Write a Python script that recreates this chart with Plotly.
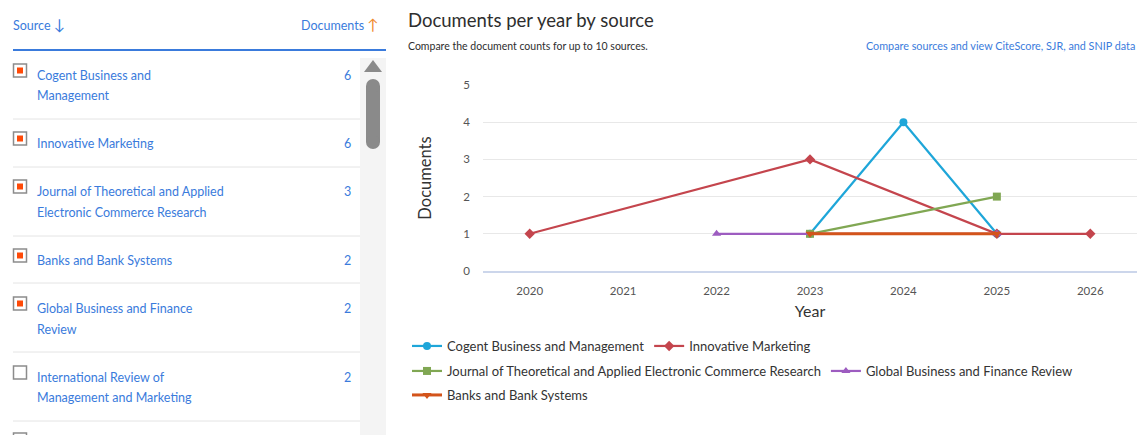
import plotly.graph_objects as go

# ---------------- data ----------------
years = ["2020", "2021", "2022", "2023", "2024", "2025", "2026"]

cogent_years = ["2023", "2024", "2025"]
cogent_docs = [1, 4, 1]
im_years = ["2020", "2023", "2025", "2026"]
im_docs = [1, 3, 1, 1]
jt_years = ["2023", "2025"]
jt_docs = [1, 2]
gb_years = ["2022", "2025"]
gb_docs = [1, 1]
bb_years = ["2023", "2025"]
bb_docs = [1, 1]

series_names = [
    "Cogent Business and Management",
    "Innovative Marketing",
    "Journal of Theoretical and Applied Electronic Commerce Research",
    "Global Business and Finance Review",
    "Banks and Bank Systems",
]

list_labels = [
    "Cogent Business and<br>Management",
    "Innovative Marketing",
    "Journal of Theoretical and Applied<br>Electronic Commerce Research",
    "Banks and Bank Systems",
    "Global Business and Finance<br>Review",
    "International Review of<br>Management and Marketing",
]
list_counts = [6, 6, 3, 2, 2, 2]
list_checked = [True, True, True, True, True, False]

y_ticks = [0, 1, 2, 3, 4, 5]

# ---------------- geometry helpers ----------------
PL, PR, PT, PB = 483, 1137, 85, 271
W, H = 1137, 435


def xp(px):
    return (px - PL) / (PR - PL)


def yp(py):
    return (PB - py) / (PB - PT)


FONT = "Lato"
BLUE = "#3a7bdc"

fig = go.Figure()

styles = [
    dict(color="#1ea6d9", symbol="circle", legend="legend", width=2.2),
    dict(color="#c4454d", symbol="diamond", legend="legend", width=2.2),
    dict(color="#80a753", symbol="square", legend="legend2", width=2.2),
    dict(color="#9d5cc0", symbol="triangle-up", legend="legend2", width=2.2),
    dict(color="#d3541b", symbol="triangle-down", legend="legend3", width=3),
]
xs = [cogent_years, im_years, jt_years, gb_years, bb_years]
ys = [cogent_docs, im_docs, jt_docs, gb_docs, bb_docs]

for name, x, y, st in zip(series_names, xs, ys, styles):
    fig.add_trace(go.Scatter(
        x=x, y=y, name=name, mode="lines+markers",
        line=dict(color=st["color"], width=st["width"]),
        marker=dict(color=st["color"], symbol=st["symbol"], size=8),
        legend=st["legend"],
    ))

shapes = []
annotations = []

# ---------- left panel ----------
annotations.append(dict(x=xp(11), y=yp(24), xref="paper", yref="paper",
                        text="Source <span style='font-size:15px'>↓</span>", showarrow=False,
                        xanchor="left", yanchor="middle",
                        font=dict(family=FONT, size=12.5, color=BLUE)))
annotations.append(dict(x=xp(381), y=yp(24), xref="paper", yref="paper",
                        text="Documents <span style='color:#f08a2c;font-size:15px'>↑</span>",
                        showarrow=False, xanchor="right", yanchor="middle",
                        font=dict(family=FONT, size=12.5, color=BLUE)))
shapes.append(dict(type="line", xref="paper", yref="paper",
                   x0=xp(13), x1=xp(386), y0=yp(50), y1=yp(50),
                   line=dict(color="#3a7bdc", width=2)))

# scrollbar
shapes.append(dict(type="rect", xref="paper", yref="paper",
                   x0=xp(360), x1=xp(386), y0=yp(58), y1=yp(440),
                   fillcolor="#f4f4f4", line=dict(width=0), layer="below"))
shapes.append(dict(type="path", xref="paper", yref="paper",
                   path=f"M {xp(364)} {yp(72)} L {xp(373)} {yp(60)} L {xp(382)} {yp(72)} Z",
                   fillcolor="#8a8a8a", line=dict(width=0)))
shapes.append(dict(type="rect", xref="paper", yref="paper",
                   x0=xp(366), x1=xp(380), y0=yp(86), y1=yp(142),
                   fillcolor="#8a8a8a", line=dict(width=0)))
shapes.append(dict(type="circle", xref="paper", yref="paper",
                   x0=xp(366), x1=xp(380), y0=yp(79), y1=yp(93),
                   fillcolor="#8a8a8a", line=dict(width=0)))
shapes.append(dict(type="circle", xref="paper", yref="paper",
                   x0=xp(366), x1=xp(380), y0=yp(135), y1=yp(149),
                   fillcolor="#8a8a8a", line=dict(width=0)))

row_y = [75, 143, 191, 260, 308, 377]
sep_y = [119, 167, 236, 283, 352, 421]
for label, cnt, chk, ry in zip(list_labels, list_counts, list_checked, row_y):
    for i, line in enumerate(label.split("<br>")):
        annotations.append(dict(x=xp(35), y=yp(ry + 21 * i), xref="paper", yref="paper",
                                text=line, showarrow=False, xanchor="left", yanchor="middle",
                                font=dict(family=FONT, size=12.5, color=BLUE)))
    annotations.append(dict(x=xp(353), y=yp(ry), xref="paper", yref="paper",
                            text=str(cnt), showarrow=False, xanchor="right", yanchor="middle",
                            font=dict(family=FONT, size=12.5, color=BLUE)))
    shapes.append(dict(type="rect", xref="paper", yref="paper",
                       x0=xp(13.5), x1=xp(26.5), y0=yp(ry - 11), y1=yp(ry + 2),
                       fillcolor="white", line=dict(color="#8c8c8c", width=1.5)))
    if chk:
        shapes.append(dict(type="rect", xref="paper", yref="paper",
                           x0=xp(17), x1=xp(23), y0=yp(ry - 7.5), y1=yp(ry - 1.5),
                           fillcolor="#ff4a08", line=dict(width=0)))
for sy in sep_y:
    shapes.append(dict(type="line", xref="paper", yref="paper",
                       x0=xp(13), x1=xp(360), y0=yp(sy), y1=yp(sy),
                       line=dict(color="#e4e4e4", width=1)))
# partially visible next checkbox
shapes.append(dict(type="rect", xref="paper", yref="paper",
                   x0=xp(13.5), x1=xp(26.5), y0=yp(433), y1=yp(446),
                   fillcolor="white", line=dict(color="#8c8c8c", width=1.5)))

# ---------- chart header ----------
annotations.append(dict(x=xp(406), y=yp(20), xref="paper", yref="paper",
                        text="Documents per year by source", showarrow=False,
                        xanchor="left", yanchor="middle",
                        font=dict(family=FONT, size=18.5, color="#2e2e2e")))
annotations.append(dict(x=xp(406), y=yp(46), xref="paper", yref="paper",
                        text="Compare the document counts for up to 10 sources.", showarrow=False,
                        xanchor="left", yanchor="middle",
                        font=dict(family=FONT, size=10.5, color="#2e2e2e")))
annotations.append(dict(x=xp(1137), y=yp(46), xref="paper", yref="paper",
                        text="Compare sources and view CiteScore, SJR, and SNIP data", showarrow=False,
                        xanchor="right", yanchor="middle",
                        font=dict(family=FONT, size=10.8, color=BLUE)))

legend_common = dict(orientation="h", xanchor="left", yanchor="middle",
                     font=dict(family=FONT, size=13, color="#333333"),
                     bgcolor="rgba(0,0,0,0)", itemclick=False, itemdoubleclick=False)

fig.update_layout(
    width=W, height=H,
    margin=dict(l=PL, r=W - PR, t=PT, b=H - PB, autoexpand=False),
    paper_bgcolor="white", plot_bgcolor="white",
    font=dict(family=FONT),
    showlegend=True,
    legend=dict(x=xp(407), y=yp(346), **legend_common),
    legend2=dict(x=xp(407), y=yp(371), **legend_common),
    legend3=dict(x=xp(407), y=yp(395), **legend_common),
    xaxis=dict(type="category", categoryorder="array", categoryarray=years,
               range=[-0.5, 6.5], showgrid=False, zeroline=False,
               showline=True, linecolor="#ccd6eb", linewidth=1.5,
               ticks="", ticklabelstandoff=8,
               tickfont=dict(family=FONT, size=11.5, color="#555555"),
               title=dict(text="Year", standoff=10,
                          font=dict(family=FONT, size=16, color="#333333")),
               automargin=False, fixedrange=True),
    yaxis=dict(range=[0, 5], tickvals=y_ticks, showgrid=True, gridcolor="#e8e8e8",
               gridwidth=1, zeroline=False, showline=False, ticks="",
               ticklabelstandoff=12,
               tickfont=dict(family=FONT, size=11.5, color="#555555"),
               title=dict(text="Documents", standoff=27,
                          font=dict(family=FONT, size=16.5, color="#333333")),
               automargin=False, fixedrange=True),
    shapes=shapes,
    annotations=annotations,
)

fig.write_html("out.html")
